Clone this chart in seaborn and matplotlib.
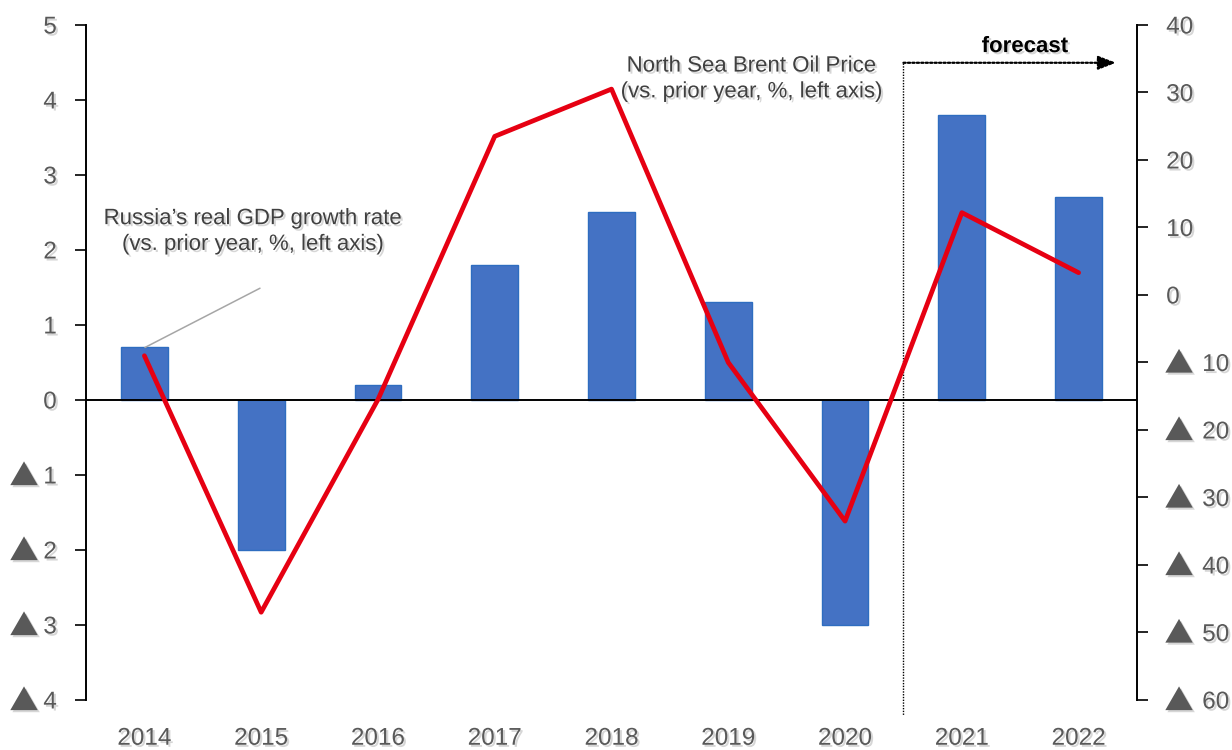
import numpy as np
import pandas as pd
import matplotlib
matplotlib.use("Agg")
import matplotlib.pyplot as plt
import matplotlib.patheffects as pe
import matplotlib.transforms as mtransforms
import seaborn as sns

# Data
years = ["2014", "2015", "2016", "2017", "2018", "2019", "2020", "2021", "2022"]
gdp_growth = [0.7, -2.0, 0.2, 1.8, 2.5, 1.3, -3.0, 3.8, 2.7]
brent_change = [-9.0, -47.0, -15.5, 23.5, 30.5, -10.0, -33.5, 12.2, 3.3]
left_ticks = [-4, -3, -2, -1, 0, 1, 2, 3, 4, 5]
right_ticks = [-60, -50, -40, -30, -20, -10, 0, 10, 20, 30, 40]

sns.set_theme(style="white")
plt.rcParams["font.family"] = ["Liberation Sans", "DejaVu Sans"]

TXT = "#404040"
TICK = "#595959"
BAR = "#4472C4"
LINE = "#E60012"
shadow = [pe.SimplePatchShadow(offset=(1.5, -1.5), shadow_rgbFace="#8a8a8a", alpha=0.35), pe.Normal()]
tri_font = ["Noto Sans CJK JP", "DejaVu Sans"]
NUM_SIZE = 17.5

df = pd.DataFrame({"year": years, "gdp": gdp_growth, "brent": brent_change})

fig = plt.figure(figsize=(12.32, 7.5), dpi=100)
ax = fig.add_axes([0.0698, 0.0667, 0.8531, 0.9])

sns.barplot(data=df, x="year", y="gdp", ax=ax, color=BAR, width=0.4,
            edgecolor="#2E6DC0", linewidth=1.0, saturation=1)
ax.set_ylim(-4, 5)
ax.set_xlim(-0.5, len(years) - 0.5)
ax.axhline(0, color="black", lw=1.4, zorder=3)

ax2 = ax.twinx()
ax2.set_position(ax.get_position())
sns.lineplot(x=np.arange(len(years)), y=df["brent"], ax=ax2, color=LINE, lw=3.4, zorder=4)
ax2.set_ylim(-60, 40)
ax.set_zorder(ax2.get_zorder() - 1)
ax2.patch.set_visible(False)

# Axes styling
for a in (ax, ax2):
    for s in ("top", "bottom"):
        a.spines[s].set_visible(False)
    a.set_xlabel("")
    a.set_ylabel("")
    a.grid(False)
ax.spines["right"].set_visible(False)
ax.spines["left"].set_color("black")
ax.spines["left"].set_linewidth(1.4)
ax2.spines["left"].set_visible(False)
ax2.spines["right"].set_color("black")
ax2.spines["right"].set_linewidth(1.4)

# Tick labels show magnitudes; negative values get a black triangle in front
ax.set_yticks(left_ticks)
ax.set_yticklabels([str(abs(v)) for v in left_ticks])
ax2.set_yticks(right_ticks)
ax2.set_yticklabels([str(abs(v)) for v in right_ticks])
ax.tick_params(axis="y", left=True, direction="out", length=8, width=1.2, color="black",
               labelsize=NUM_SIZE, labelcolor=TICK, pad=13)
ax2.tick_params(axis="y", right=True, direction="out", length=8, width=1.2, color="black",
                labelsize=NUM_SIZE, labelcolor=TICK, pad=13)
ax.tick_params(axis="x", bottom=False, labelsize=NUM_SIZE, labelcolor=TICK, pad=14)
for lab in ax.get_xticklabels() + ax.get_yticklabels() + ax2.get_yticklabels():
    lab.set_path_effects(shadow)

shift = mtransforms.ScaledTranslation(36 / 100, 0, fig.dpi_scale_trans)
for v, lab in zip(right_ticks, ax2.get_yticklabels()):
    if v < 0:
        lab.set_transform(lab.get_transform() + shift)

for a, ticks, dx in ((ax, left_ticks, -62), (ax2, right_ticks, 42)):
    xpos = 0 if a is ax else 1
    for v in ticks:
        if v < 0:
            a.annotate("▲", xy=(xpos, v), xycoords=("axes fraction", "data"),
                       xytext=(dx, 1), textcoords="offset pixels", ha="center",
                       va="center_baseline", fontsize=21, color=TICK, family=tri_font,
                       annotation_clip=False, path_effects=shadow)

# Forecast divider and arrow
trans = ax.get_xaxis_transform()
ax.plot([6.5, 6.5], [0.944, -0.022], transform=trans, color="black", lw=1.0,
        ls=(0, (1, 1)), clip_on=False, zorder=5)
ax.annotate("", xy=(8.32, 0.944), xytext=(6.5, 0.944), xycoords=trans, textcoords=trans,
            arrowprops=dict(arrowstyle="-|>,head_length=0.9,head_width=0.35", color="black",
                            lw=1.6, ls=(0, (1, 1)), shrinkA=0, shrinkB=0), zorder=5)
ax.text(7.54, 0.968, "forecast", transform=trans, ha="center", va="center",
        fontsize=16, fontweight="bold", color="black", path_effects=shadow)

# Series annotations
ax.text(5.20, 0.920, "North Sea Brent Oil Price\n(vs. prior year, %, left axis)",
        transform=trans, ha="center", va="center", fontsize=16, color=TXT,
        linespacing=1.3, path_effects=shadow)
ax.text(0.93, 0.694, "Russia\u2019s real GDP growth rate\n(vs. prior year, %, left axis)",
        transform=trans, ha="center", va="center", fontsize=16, color=TXT,
        linespacing=1.3, path_effects=shadow)
ax.plot([0.99, 0.005], [1.49, gdp_growth[0]], color="#A6A6A6", lw=1.1, zorder=5)

fig.savefig("out.png", dpi=100)
